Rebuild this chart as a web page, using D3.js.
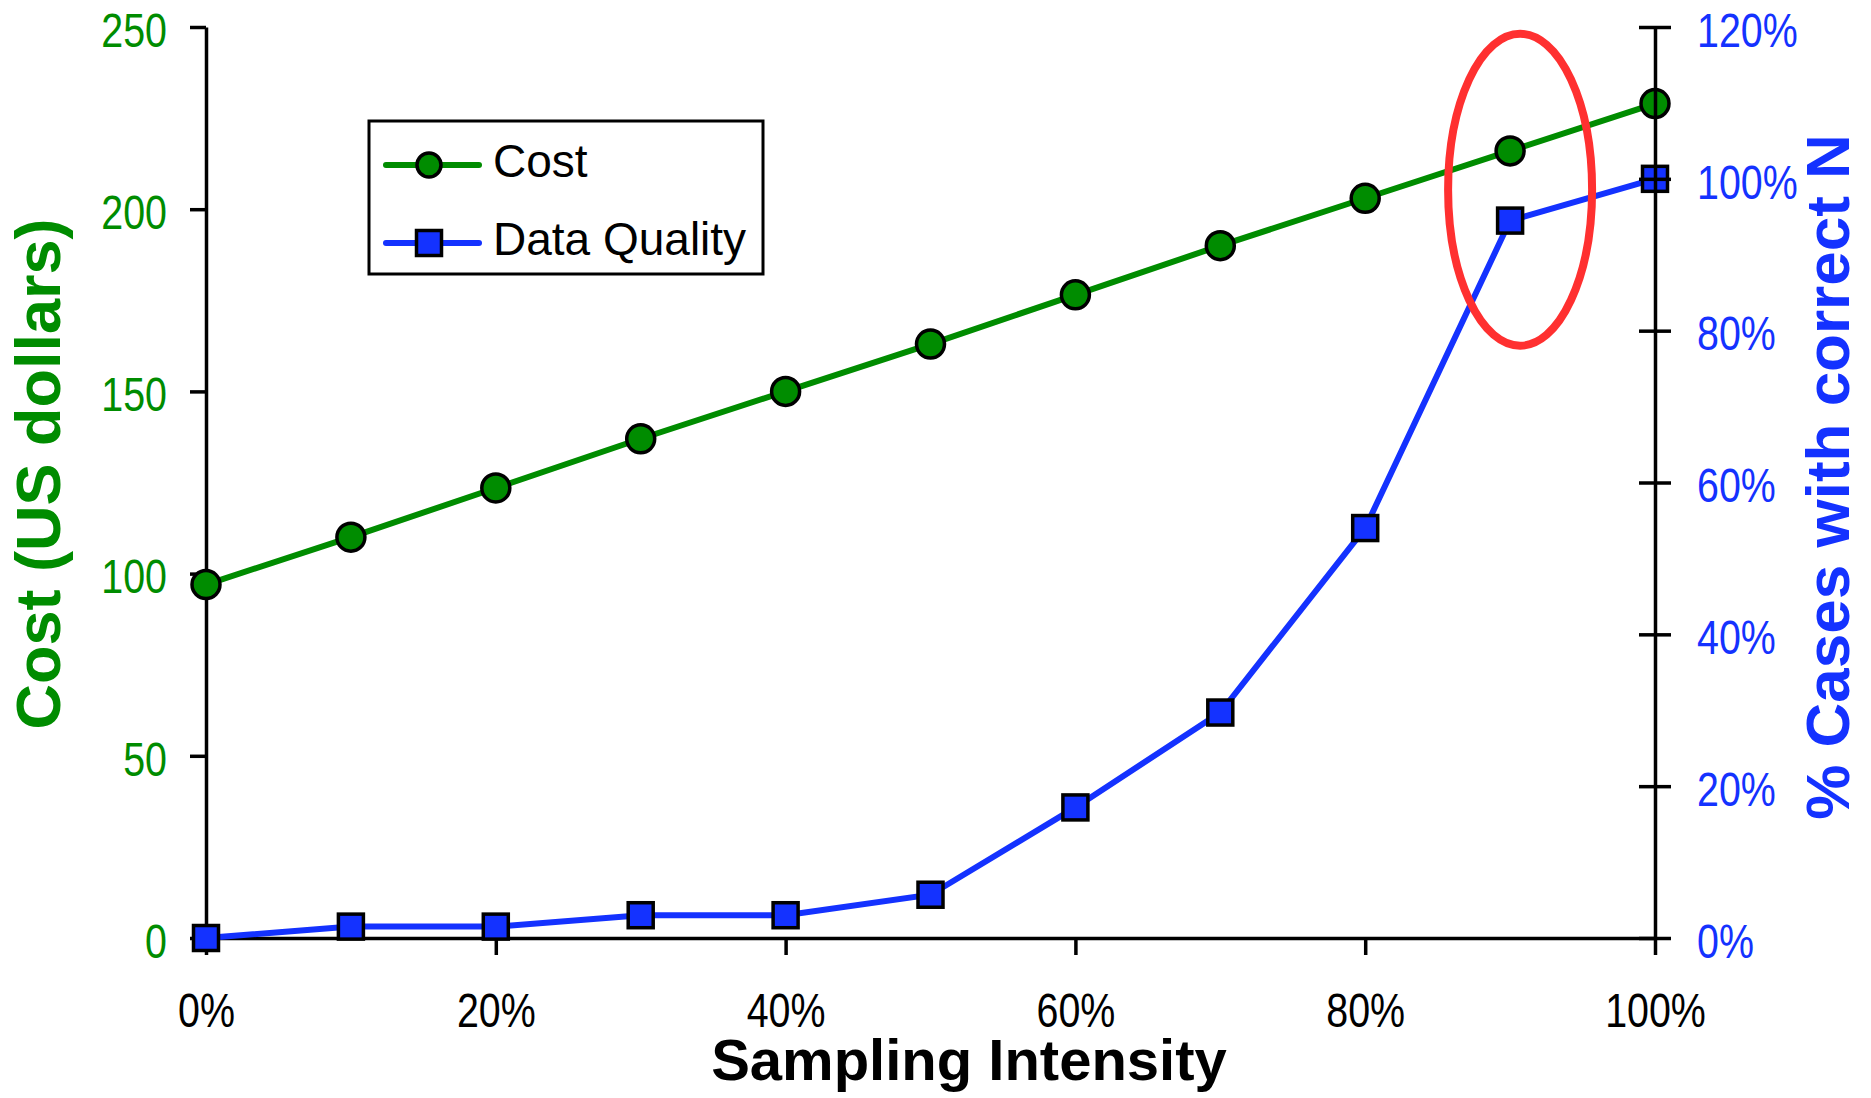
<!DOCTYPE html>
<html>
<head>
<meta charset="utf-8">
<script src="https://cdn.jsdelivr.net/npm/d3@7"></script>
<style>
  body { margin: 0; background: #fff; }
  svg { display: block; }
</style>
</head>
<body>
<svg id="chart"></svg>
<script>
// Cost vs data quality by sampling intensity

const WIDTH = 1871;
const HEIGHT = 1098;

const GREEN = "#008c00";
const BLUE = "#1432ff";
const RED = "#ff3030";

const intensity = [0, 10, 20, 30, 40, 50, 60, 70, 80, 90, 100];
const cost = [97, 110, 123.5, 137, 150, 163, 176.5, 190, 203, 216, 229];
const quality = [0, 1.5, 1.5, 3, 3, 5.7, 17.2, 29.7, 54, 94.5, 100];

const xTicks = [0, 20, 40, 60, 80, 100];
const costTicks = [0, 50, 100, 150, 200, 250];
const qualityTicks = [0, 20, 40, 60, 80, 100, 120];

const seriesNames = ["Cost", "Data Quality"];
const highlightAt = 90; // circled point

const tickFont = "'Liberation Sans Narrow', 'Liberation Sans', Arial, sans-serif";
const titleFont = "'Liberation Sans', Arial, sans-serif";
const NARROW = 0.82; // tick labels in the original are a condensed face

const svg = d3.select("#chart")
    .attr("width", WIDTH)
    .attr("height", HEIGHT);

const x = d3.scaleLinear().domain([0, 100]).range([206, 1655]);
const yCost = d3.scaleLinear().domain([0, 250]).range([938, 27]);
const yQual = d3.scaleLinear().domain([0, 120]).range([938, 27]);

function squeeze(sel) {
    sel.each(function () {
        const w = this.getComputedTextLength();
        d3.select(this)
            .attr("textLength", w * NARROW)
            .attr("lengthAdjust", "spacingAndGlyphs");
    });
}

// --- left axis (drawn under the series) ---
const leftAxis = svg.append("g")
    .attr("transform", `translate(${x(0)},0)`)
    .call(d3.axisLeft(yCost).tickValues(costTicks).tickSize(16).tickSizeOuter(0).tickPadding(23));

leftAxis.select(".domain").attr("stroke", "#000").attr("stroke-width", 3.5);
leftAxis.selectAll(".tick line").attr("stroke", "#000").attr("stroke-width", 3.5);
leftAxis.selectAll(".tick text")
    .attr("dy", "0.4em")
    .attr("font-family", tickFont)
    .attr("font-size", 48)
    .attr("fill", GREEN)
    .call(squeeze);

// --- x axis ---
const bottomAxis = svg.append("g")
    .attr("transform", `translate(0,${yCost(0)})`)
    .call(d3.axisBottom(x).tickValues(xTicks).tickSize(17).tickSizeOuter(0).tickFormat(d => d + "%"));

bottomAxis.select(".domain").attr("stroke", "#000").attr("stroke-width", 3.5);
bottomAxis.selectAll(".tick line").attr("stroke", "#000").attr("stroke-width", 3.5);
bottomAxis.selectAll(".tick text")
    .attr("y", 89)
    .attr("dy", 0)
    .attr("font-family", tickFont)
    .attr("font-size", 48)
    .attr("fill", "#000")
    .call(squeeze);

// --- series lines ---
const costLine = d3.line()
    .x((d, i) => x(intensity[i]))
    .y(d => yCost(d));

const qualLine = d3.line()
    .x((d, i) => x(intensity[i]))
    .y(d => yQual(d));

svg.append("path")
    .datum(cost)
    .attr("d", costLine)
    .attr("fill", "none")
    .attr("stroke", GREEN)
    .attr("stroke-width", 6);

svg.append("path")
    .datum(quality)
    .attr("d", qualLine)
    .attr("fill", "none")
    .attr("stroke", BLUE)
    .attr("stroke-width", 6);

// markers
const SQ = 25;

svg.selectAll(".cost-dot")
    .data(cost)
    .join("circle")
    .attr("class", "cost-dot")
    .attr("cx", (d, i) => x(intensity[i]))
    .attr("cy", d => yCost(d))
    .attr("r", 14)
    .attr("fill", GREEN)
    .attr("stroke", "#000")
    .attr("stroke-width", 3.5);

svg.selectAll(".qual-sq")
    .data(quality)
    .join("rect")
    .attr("class", "qual-sq")
    .attr("x", (d, i) => x(intensity[i]) - SQ / 2)
    .attr("y", d => yQual(d) - SQ / 2)
    .attr("width", SQ)
    .attr("height", SQ)
    .attr("fill", BLUE)
    .attr("stroke", "#000")
    .attr("stroke-width", 3.5);

// --- right axis (drawn over the series) ---
const rightAxis = svg.append("g")
    .attr("transform", `translate(${x(100)},0)`)
    .call(d3.axisRight(yQual).tickValues(qualityTicks).tickSize(16).tickSizeOuter(0).tickPadding(26)
        .tickFormat(d => d + "%"));

rightAxis.select(".domain").attr("stroke", "#000").attr("stroke-width", 3.5);
rightAxis.selectAll(".tick line")
    .attr("x1", -16)
    .attr("stroke", "#000")
    .attr("stroke-width", 3.5);
rightAxis.selectAll(".tick text")
    .attr("dy", "0.4em")
    .attr("font-family", tickFont)
    .attr("font-size", 48)
    .attr("fill", BLUE)
    .call(squeeze);

// --- axis titles ---
svg.append("text")
    .attr("transform", "translate(60,474) rotate(-90)")
    .attr("text-anchor", "middle")
    .attr("font-family", titleFont)
    .attr("font-weight", "bold")
    .attr("font-size", 63)
    .attr("fill", GREEN)
    .text("Cost (US dollars)");

svg.append("text")
    .attr("transform", "translate(1849,477) rotate(-90)")
    .attr("text-anchor", "middle")
    .attr("font-family", titleFont)
    .attr("font-weight", "bold")
    .attr("font-size", 62)
    .attr("fill", BLUE)
    .text("% Cases with correct N");

svg.append("text")
    .attr("x", 969)
    .attr("y", 1080)
    .attr("text-anchor", "middle")
    .attr("font-family", titleFont)
    .attr("font-weight", "bold")
    .attr("font-size", 58)
    .attr("fill", "#000")
    .text("Sampling Intensity");

// --- legend ---
const legend = svg.append("g").attr("transform", "translate(369,121)");

legend.append("rect")
    .attr("width", 394)
    .attr("height", 153)
    .attr("fill", "#fff")
    .attr("stroke", "#000")
    .attr("stroke-width", 3);

const rowY = [44, 122];
const rowColor = [GREEN, BLUE];

seriesNames.forEach((name, i) => {
    const row = legend.append("g").attr("transform", `translate(0,${rowY[i]})`);
    row.append("line")
        .attr("x1", 17).attr("x2", 110)
        .attr("stroke", rowColor[i])
        .attr("stroke-width", 6)
        .attr("stroke-linecap", "round");
    if (i === 0) {
        row.append("circle")
            .attr("cx", 60).attr("r", 12)
            .attr("fill", GREEN)
            .attr("stroke", "#000")
            .attr("stroke-width", 3.5);
    } else {
        row.append("rect")
            .attr("x", 60 - SQ / 2).attr("y", -SQ / 2)
            .attr("width", SQ).attr("height", SQ)
            .attr("fill", BLUE)
            .attr("stroke", "#000")
            .attr("stroke-width", 3.5);
    }
    row.append("text")
        .attr("x", 124)
        .attr("y", 12)
        .attr("font-family", titleFont)
        .attr("font-size", 46)
        .attr("fill", "#000")
        .text(name);
});

// --- highlight ellipse around the 90% points ---
const hiIdx = intensity.indexOf(highlightAt);
const hiTop = yCost(cost[hiIdx]);
const hiBottom = yQual(quality[hiIdx]);

svg.append("ellipse")
    .attr("cx", x(highlightAt) + 10)
    .attr("cy", (hiTop + hiBottom) / 2 + 4)
    .attr("rx", 72)
    .attr("ry", 156)
    .attr("fill", "none")
    .attr("stroke", RED)
    .attr("stroke-width", 8);
</script>
</body>
</html>
